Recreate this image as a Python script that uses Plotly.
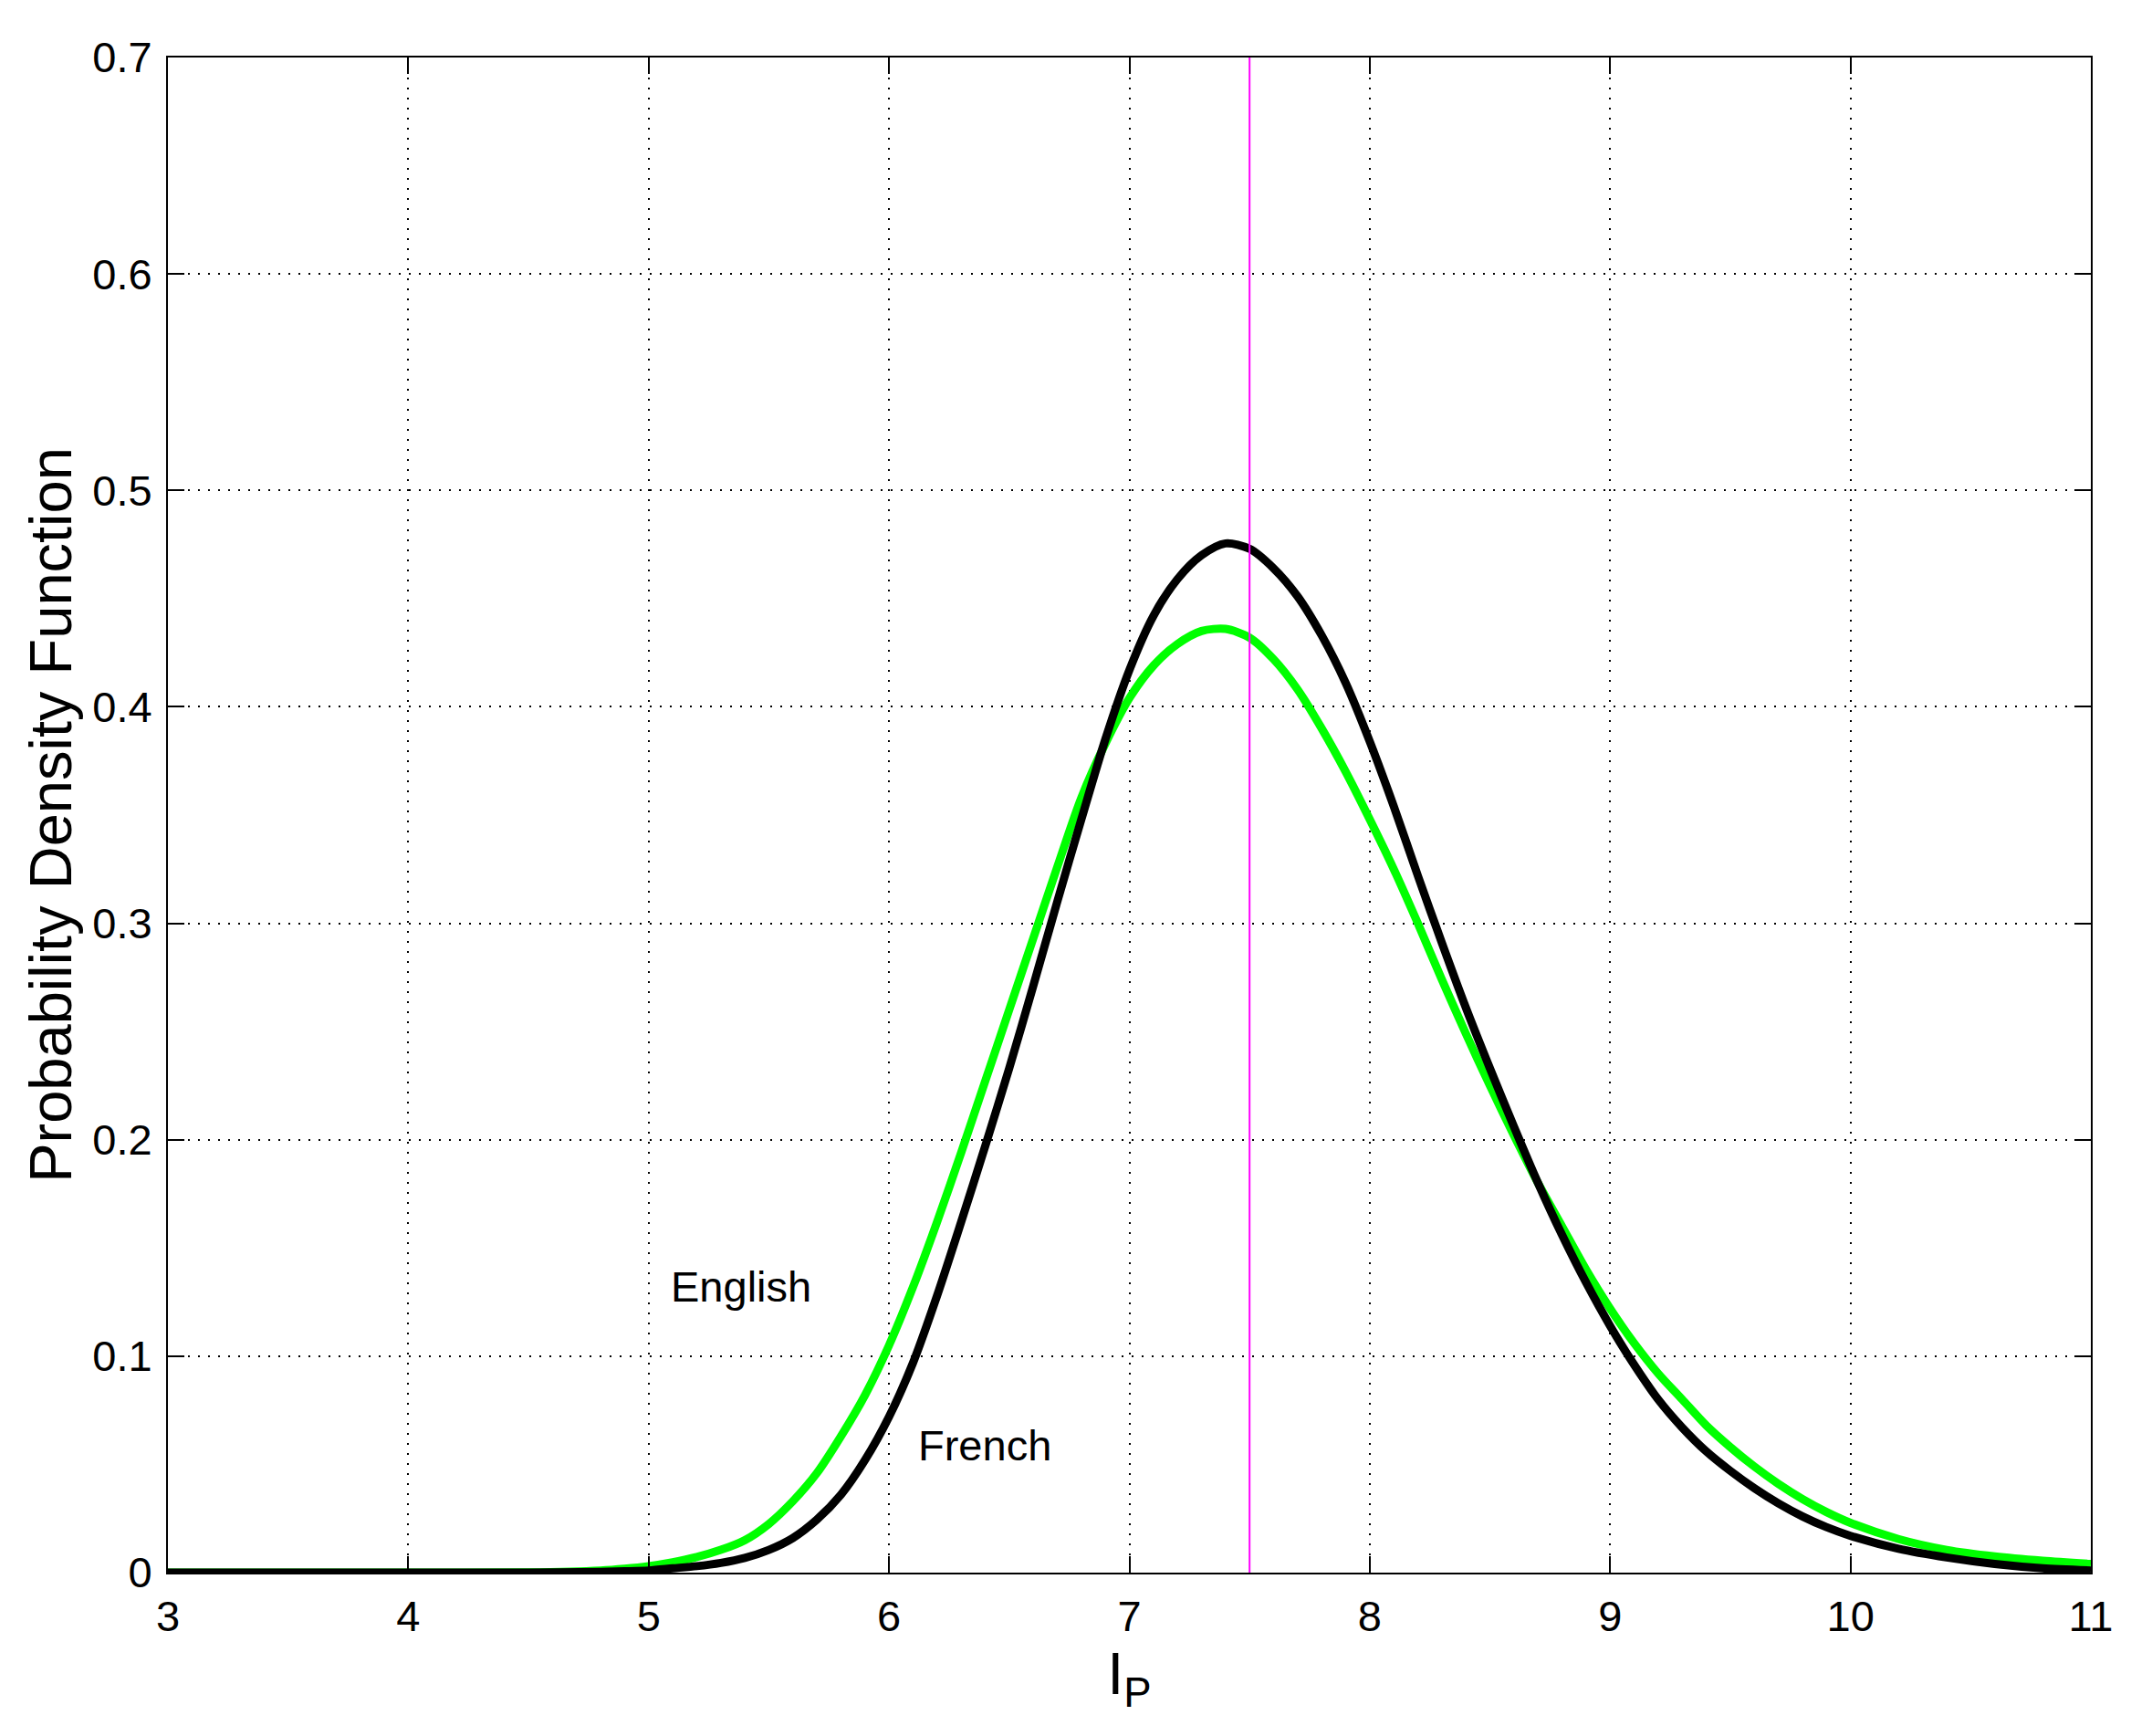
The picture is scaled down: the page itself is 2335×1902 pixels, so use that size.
import plotly.graph_objects as go

# values
ip = [3.0, 4.0, 4.5, 4.8, 4.9,
      5.0, 5.1, 5.2, 5.3, 5.4, 5.5, 5.6, 5.7, 5.8, 5.9,
      6.0, 6.1, 6.2, 6.3, 6.4, 6.5, 6.6, 6.7, 6.8, 6.9,
      7.0, 7.1, 7.2, 7.3, 7.4, 7.5, 7.6, 7.7, 7.8, 7.9,
      8.0, 8.1, 8.2, 8.3, 8.4, 8.5, 8.6, 8.7, 8.8, 8.9,
      9.0, 9.1, 9.2, 9.3, 9.4, 9.5, 9.6, 9.7, 9.8, 9.9,
      10.0, 10.2, 10.4, 10.6, 10.8, 11.0]

pdf_french = [0.0, 0.0, 0.0, 0.0003, 0.0006,
              0.001, 0.002, 0.003, 0.0045, 0.0068, 0.0105, 0.016, 0.0245, 0.036, 0.052,
              0.072, 0.097, 0.128, 0.162, 0.197, 0.233, 0.271, 0.310, 0.348, 0.385,
              0.417, 0.442, 0.459, 0.470, 0.4755, 0.473, 0.464, 0.451, 0.433, 0.411,
              0.384, 0.354, 0.322, 0.291, 0.261, 0.233, 0.206, 0.180, 0.156, 0.134,
              0.114, 0.096, 0.080, 0.067, 0.056, 0.047, 0.039, 0.032, 0.026, 0.021,
              0.017, 0.011, 0.007, 0.004, 0.002, 0.001]

pdf_english = [0.0, 0.0, 0.0001, 0.001, 0.0018,
               0.003, 0.0048, 0.0072, 0.0105, 0.015, 0.0225, 0.033, 0.046, 0.063, 0.082,
               0.105, 0.132, 0.162, 0.194, 0.227, 0.260, 0.293, 0.326, 0.358, 0.383,
               0.404, 0.419, 0.429, 0.435, 0.436, 0.432, 0.422, 0.408, 0.390, 0.370,
               0.348, 0.325, 0.300, 0.274, 0.249, 0.225, 0.202, 0.180, 0.160, 0.140,
               0.122, 0.106, 0.092, 0.080, 0.068, 0.058, 0.049, 0.041, 0.034, 0.028,
               0.023, 0.0155, 0.0105, 0.0075, 0.0055, 0.004]

threshold = 7.5
y_max = 0.7

font = "Liberation Sans, Arial, Helvetica, sans-serif"

fig = go.Figure()
fig.add_trace(go.Scatter(x=ip, y=pdf_english, mode="lines", name="English",
                         line=dict(color="#00ff00", width=9, shape="spline", smoothing=0.8)))
fig.add_trace(go.Scatter(x=ip, y=pdf_french, mode="lines", name="French",
                         line=dict(color="#000000", width=9, shape="spline", smoothing=0.8)))
fig.add_trace(go.Scatter(x=[threshold, threshold], y=[0, y_max], mode="lines",
                         line=dict(color="#ff00ff", width=2), hoverinfo="skip"))

fig.add_annotation(x=5.385, y=0.132, text="English", showarrow=False,
                   font=dict(size=47, color="black", family=font))
fig.add_annotation(x=6.4, y=0.059, text="French", showarrow=False,
                   font=dict(size=47, color="black", family=font))

axis_style = dict(showline=True, linecolor="black", linewidth=2, mirror="allticks",
                  ticks="inside", ticklen=18, tickwidth=2, tickcolor="black",
                  showgrid=True, gridcolor="black", gridwidth=2, griddash="2px,9px",
                  zeroline=False, tickfont=dict(size=47, color="black", family=font))

fig.update_xaxes(range=[3, 11], tick0=3, dtick=1, ticklabelstandoff=6,
                 title=dict(text="I<sub>P</sub>",
                            font=dict(size=65, color="black", family=font), standoff=10),
                 **axis_style)
fig.update_yaxes(range=[0, y_max], tick0=0, dtick=0.1, ticklabelstandoff=6,
                 title=dict(text="Probability Density Function",
                            font=dict(size=65, color="black", family=font), standoff=2),
                 **axis_style)

# page body has an 8px margin, so the figure is 16px smaller than the window
fig.update_layout(width=2319, height=1886, showlegend=False,
                  plot_bgcolor="white", paper_bgcolor="white",
                  margin=dict(l=176, r=36, t=55, b=171, autoexpand=False))

fig.write_html("out.html")
